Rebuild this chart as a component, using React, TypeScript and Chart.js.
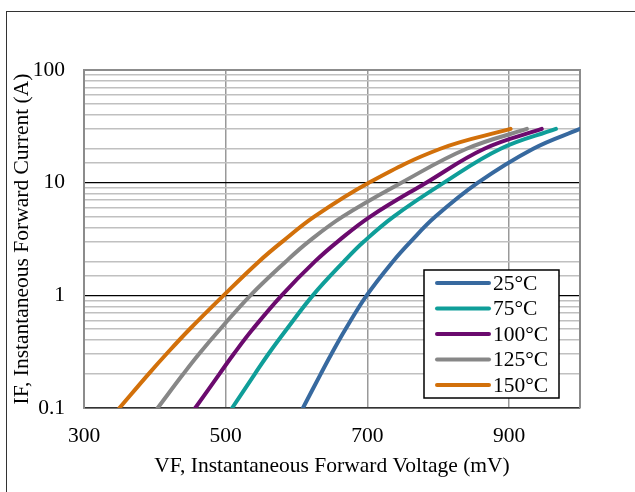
import React, { useEffect, useRef } from "react";
import { Chart, registerables } from "chart.js";

Chart.register(...registerables);

// Forward current levels (A)
const currentA = [0.1, 0.2, 0.3, 0.5, 1, 2, 3, 5, 10, 20, 30];
// Forward voltage (mV) at each current level, per junction temperature
const vf25 = [609, 634, 649, 669, 699, 736, 761, 796, 856, 934, 1000];
const vf75 = [509, 541, 560, 586, 623, 667, 695, 737, 808, 888, 966];
const vf100 = [457, 491, 511, 538, 579, 626, 658, 704, 783, 865, 946];
const vf125 = [404, 440, 462, 492, 535, 585, 617, 665, 748, 840, 925];
const vf150 = [350, 391, 416, 449, 497, 547, 580, 625, 702, 803, 902];

const seriesLabels = ["25°C", "75°C", "100°C", "125°C", "150°C"];
const seriesColors = ["#37699f", "#0f9e99", "#6b0a6e", "#878787", "#d2700a"];
const seriesVoltages = [vf25, vf75, vf100, vf125, vf150];

const xTicks = [300, 500, 700, 900];
const yMajor = [0.1, 1, 10, 100];

const FONT = '"Liberation Serif", "Times New Roman", serif';
const FS = 21.5;

const legendPlugin = {
  id: "boxLegend",
  afterDatasetsDraw(chart: any) {
    const { ctx, chartArea } = chart;
    const bx = chartArea.right - 156;
    const by = chartArea.bottom - 138;
    const bw = 135;
    const bh = 128;
    ctx.save();
    ctx.fillStyle = "#fff";
    ctx.fillRect(bx, by, bw, bh);
    ctx.strokeStyle = "#000";
    ctx.lineWidth = 1.5;
    ctx.strokeRect(bx, by, bw, bh);
    ctx.font = `${FS}px ${FONT}`;
    ctx.textBaseline = "middle";
    ctx.textAlign = "left";
    seriesLabels.forEach((lab, i) => {
      const yy = by + 13 + i * 25.5;
      ctx.strokeStyle = seriesColors[i];
      ctx.lineWidth = 4;
      ctx.lineCap = "round";
      ctx.beginPath();
      ctx.moveTo(bx + 13, yy);
      ctx.lineTo(bx + 65, yy);
      ctx.stroke();
      ctx.fillStyle = "#000";
      ctx.fillText(lab, bx + 69, yy + 1);
    });
    ctx.restore();
  },
};

const framePlugin = {
  id: "frame",
  beforeDatasetsDraw(chart: any) {
    const { ctx, chartArea } = chart;
    ctx.save();
    ctx.strokeStyle = "#8c8c8c";
    ctx.lineWidth = 2;
    ctx.beginPath();
    ctx.moveTo(chartArea.left, chartArea.top);
    ctx.lineTo(chartArea.right, chartArea.top);
    ctx.lineTo(chartArea.right, chartArea.bottom);
    ctx.stroke();
    ctx.restore();
  },
};

export default function App() {
  const ref = useRef<HTMLCanvasElement | null>(null);

  useEffect(() => {
    if (!ref.current) return;
    Chart.defaults.font.family = FONT;
    Chart.defaults.color = "#000";
    const datasets = seriesLabels.map((lab, i) => ({
      label: lab,
      data: seriesVoltages[i].map((v, j) => ({ x: v, y: currentA[j] })),
      borderColor: seriesColors[i],
      backgroundColor: seriesColors[i],
      borderWidth: 4,
      borderCapStyle: "round" as const,
      pointRadius: 0,
      tension: 0.4,
      fill: false,
    }));
    const chart = new Chart(ref.current, {
      type: "line",
      data: { datasets },
      plugins: [framePlugin, legendPlugin],
      options: {
        animation: false,
        responsive: false,
        layout: { padding: { left: 0, top: 70, right: 55, bottom: 0 } },
        plugins: { legend: { display: false }, tooltip: { enabled: false } },
        scales: {
          x: {
            type: "linear",
            min: 300,
            max: 1000,
            afterBuildTicks: (s: any) => {
              s.ticks = xTicks.map((v) => ({ value: v }));
            },
            afterFit: (s: any) => {
              s.height = 84;
            },
            grid: {
              color: "#999",
              lineWidth: 1.5,
              drawTicks: false,
            },
            border: { color: "#333", width: 1.5 },
            ticks: { font: { size: FS }, padding: 15, maxRotation: 0 },
            title: {
              display: true,
              text: "VF, Instantaneous Forward Voltage (mV)",
              font: { size: FS },
              padding: { top: 0, bottom: 13 },
            },
          },
          y: {
            type: "logarithmic",
            min: 0.1,
            max: 100,
            afterFit: (s: any) => {
              s.width = 84;
            },
            grid: {
              color: (c: any) => {
                const v = c.tick && c.tick.value;
                if (v === 100) return "#8c8c8c";
                if (yMajor.some((m) => Math.abs(m - v) < 1e-9)) return "#000";
                return "#c0c0c0";
              },
              lineWidth: (c: any) => {
                const v = c.tick && c.tick.value;
                if (yMajor.some((m) => Math.abs(m - v) < 1e-9)) return 1.2;
                return 1.5;
              },
              drawTicks: false,
            },
            border: { color: "#8c8c8c", width: 2 },
            ticks: {
              font: { size: FS },
              padding: 19,
              autoSkip: false,
              callback: (v: any) => {
                const n = Number(v);
                const m = yMajor.find((t) => Math.abs(t - n) < 1e-9);
                return m !== undefined ? String(m) : "";
              },
            },
            title: {
              display: true,
              text: "IF, Instantaneous Forward Current (A)",
              font: { size: FS },
              padding: { top: 9, bottom: 0 },
            },
          },
        },
      },
    });
    return () => chart.destroy();
  }, []);

  return (
    <div style={{ position: "fixed", left: 0, top: 0, width: 635, height: 492, background: "#fff" }}>
      <div
        style={{
          position: "absolute",
          left: 6,
          top: 11,
          right: 0,
          bottom: 0,
          borderLeft: "1px solid #333",
          borderTop: "1px solid #333",
        }}
      />
      <canvas
        ref={ref}
        width={635}
        height={492}
        style={{ position: "absolute", left: 0, top: 0, display: "block" }}
      />
    </div>
  );
}
